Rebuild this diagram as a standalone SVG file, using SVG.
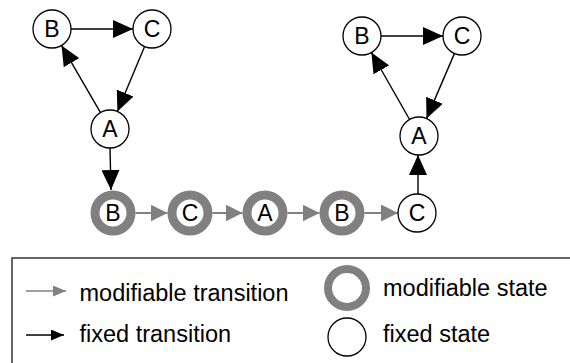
<svg xmlns="http://www.w3.org/2000/svg" width="570" height="363" viewBox="0 0 570 363">
<style>
.fx{fill:#fff;stroke:#000;stroke-width:1.3}
.md{fill:#fff;stroke:#808080;stroke-width:9}
.lb{font-family:"Liberation Sans",Arial,sans-serif;font-size:23px;text-anchor:middle;fill:#000}
.lg{font-family:"Liberation Sans",Arial,sans-serif;font-size:23.5px;fill:#000}
.bk{stroke:#000;stroke-width:1.4;fill:none;marker-end:url(#ab)}
.gr{stroke:#808080;stroke-width:2;fill:none;marker-end:url(#ag)}
</style>
<defs>
<marker id="ab" markerUnits="userSpaceOnUse" viewBox="0 0 20 18" markerWidth="20" markerHeight="18" refX="20" refY="9" orient="auto"><path d="M0,0 L20,9 L0,18 Z" fill="#000"/></marker>
<marker id="ag" markerUnits="userSpaceOnUse" viewBox="0 0 17 17" markerWidth="17" markerHeight="17" refX="17" refY="8.5" orient="auto"><path d="M0,0 L17,8.5 L0,17 Z" fill="#808080"/></marker>
<marker id="lb" markerUnits="userSpaceOnUse" viewBox="0 0 13 11" markerWidth="13" markerHeight="11" refX="13" refY="5.5" orient="auto"><path d="M0,0 L13,5.5 L0,11 Z" fill="#000"/></marker>
<marker id="lg" markerUnits="userSpaceOnUse" viewBox="0 0 13 11" markerWidth="13" markerHeight="11" refX="13" refY="5.5" orient="auto"><path d="M0,0 L13,5.5 L0,11 Z" fill="#808080"/></marker>
</defs>
<rect width="570" height="363" fill="#fff"/>
<g id="connectors">
<line class="bk" x1="71" y1="29" x2="133" y2="29"/>
<line class="bk" x1="100.5" y1="112.6" x2="61.5" y2="45.4"/>
<line class="bk" x1="144.6" y1="46.5" x2="117.4" y2="111.5"/>
<line class="bk" x1="110" y1="148" x2="111" y2="190"/>
<line class="bk" x1="381" y1="36" x2="443" y2="36"/>
<line class="bk" x1="409.6" y1="119.5" x2="371.4" y2="52.5"/>
<line class="bk" x1="454.5" y1="53.4" x2="426.5" y2="118.6"/>
<line class="bk" x1="418" y1="194" x2="418" y2="155"/>
<line class="gr" x1="135.5" y1="213" x2="167.5" y2="213"/>
<line class="gr" x1="212.5" y1="213" x2="242.5" y2="213"/>
<line class="gr" x1="287.5" y1="213" x2="319.5" y2="213"/>
<line class="gr" x1="364.5" y1="213" x2="398" y2="213"/>
</g>
<g id="L-B"><circle class="fx" cx="52" cy="29" r="19"/><text class="lb" x="52" y="37">B</text></g>
<g id="L-C"><circle class="fx" cx="152" cy="29" r="19"/><text class="lb" x="152" y="37">C</text></g>
<g id="L-A"><circle class="fx" cx="110" cy="129" r="19"/><text class="lb" x="110" y="137">A</text></g>
<g id="R-B"><circle class="fx" cx="362" cy="36" r="19"/><text class="lb" x="362" y="44">B</text></g>
<g id="R-C"><circle class="fx" cx="462" cy="36" r="19"/><text class="lb" x="462" y="44">C</text></g>
<g id="R-A"><circle class="fx" cx="419" cy="136" r="19"/><text class="lb" x="419" y="144">A</text></g>
<g id="S1"><circle class="md" cx="113" cy="213" r="18"/><text class="lb" x="113" y="221">B</text></g>
<g id="S2"><circle class="md" cx="190" cy="213" r="18"/><text class="lb" x="190" y="221">C</text></g>
<g id="S3"><circle class="md" cx="265" cy="213" r="18"/><text class="lb" x="265" y="221">A</text></g>
<g id="S4"><circle class="md" cx="342" cy="213" r="18"/><text class="lb" x="342" y="221">B</text></g>
<g id="S5"><circle class="fx" cx="417" cy="213" r="19"/><text class="lb" x="417" y="221">C</text></g>
<g id="legend">
<rect x="12" y="258" width="600" height="200" fill="none" stroke="#333" stroke-width="1.5"/>
<line x1="26" y1="291" x2="66" y2="291" stroke="#808080" stroke-width="1.5" marker-end="url(#lg)"/>
<text class="lg" x="79.5" y="301">modifiable transition</text>
<line x1="26" y1="335" x2="64" y2="335" stroke="#000" stroke-width="1.5" marker-end="url(#lb)"/>
<text class="lg" x="79.5" y="342">fixed transition</text>
<circle cx="347" cy="288" r="19" fill="#fff" stroke="#808080" stroke-width="8"/>
<text class="lg" x="383" y="296">modifiable state</text>
<circle class="fx" cx="347" cy="337" r="19"/>
<text class="lg" x="383" y="342">fixed state</text>
</g>
</svg>
